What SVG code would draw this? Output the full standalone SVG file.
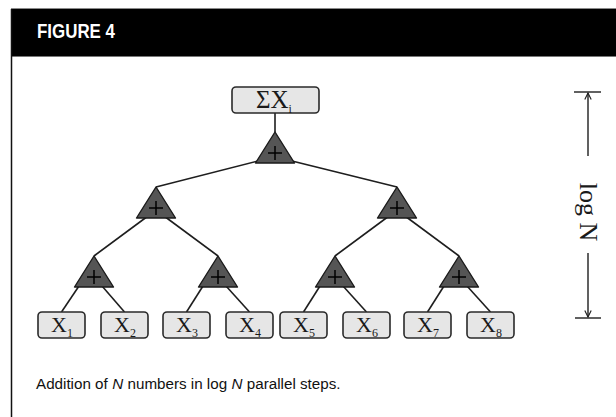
<svg xmlns="http://www.w3.org/2000/svg" width="616" height="417" viewBox="0 0 616 417">
  <style>
    .box { fill: #e6e6e6; stroke: #2a2a2a; stroke-width: 1.6; }
    .tri { fill: #555555; stroke: #1a1a1a; stroke-width: 1.4; stroke-linejoin: round; }
    .edge { stroke: #1e1e1e; stroke-width: 1.6; fill: none; }
    .dim { stroke: #1e1e1e; stroke-width: 1.4; fill: none; }
    .var { font-family: "Liberation Serif", "Times New Roman", serif; fill: #1a1a1a; }
    .sub { font-size: 12px; }
    .cap { font-family: "Liberation Sans", Arial, sans-serif; font-size: 15.2px; fill: #111; }
  </style>
  <defs>
    <marker id="openArrow" viewBox="0 0 10 10" refX="9" refY="5" markerWidth="8" markerHeight="8" markerUnits="userSpaceOnUse" orient="auto">
      <path d="M1,1 L9,5 L1,9" fill="none" stroke="#1e1e1e" stroke-width="1.4"/>
    </marker>
    <g id="opTri">
      <polygon class="tri" points="0,0 -19.5,31 19.5,31"/>
      <path d="M-7,21 H7 M0,14 V28" stroke="#000000" stroke-width="1.5" fill="none"/>
    </g>
  </defs>

  <!-- page frame and header bar -->
  <rect x="0" y="0" width="616" height="417" fill="#ffffff"/>
  <line x1="11" y1="8.5" x2="616" y2="8.5" stroke="#8a8a8a" stroke-width="1"/>
  <rect x="11" y="9" width="605" height="47" fill="#000000"/>
  <line x1="11" y1="56.5" x2="616" y2="56.5" stroke="#777" stroke-width="1"/>
  <line x1="11.5" y1="9" x2="11.5" y2="417" stroke="#111" stroke-width="1.5"/>
  <text x="37" y="38" font-family="Liberation Sans, Arial, sans-serif" font-weight="bold" font-size="20" fill="#ffffff" textLength="78" lengthAdjust="spacingAndGlyphs">FIGURE 4</text>

  <!-- connectors -->
  <g id="connectors">
    <line class="edge" x1="275" y1="113" x2="275" y2="132"/>
    <line class="edge" x1="258" y1="161" x2="156" y2="187"/>
    <line class="edge" x1="292" y1="161" x2="397" y2="187"/>
    <line class="edge" x1="148" y1="216" x2="94" y2="256"/>
    <line class="edge" x1="164" y1="216" x2="218" y2="256"/>
    <line class="edge" x1="389" y1="216" x2="335" y2="256"/>
    <line class="edge" x1="405" y1="216" x2="459" y2="256"/>
    <line class="edge" x1="79" y1="286" x2="61.5" y2="312"/>
    <line class="edge" x1="102" y1="286" x2="124.5" y2="312"/>
    <line class="edge" x1="203" y1="286" x2="186.5" y2="312"/>
    <line class="edge" x1="226" y1="286" x2="249.5" y2="312"/>
    <line class="edge" x1="320" y1="286" x2="303.5" y2="312"/>
    <line class="edge" x1="343" y1="286" x2="366.5" y2="312"/>
    <line class="edge" x1="444" y1="286" x2="427.5" y2="312"/>
    <line class="edge" x1="467" y1="286" x2="490.5" y2="312"/>
  </g>

  <!-- result -->
  <g id="sum">
    <rect class="box" x="232" y="87" width="87" height="26" rx="4"/>
    <text class="var" x="256" y="108" font-size="25">ΣX<tspan class="sub" dy="5" font-size="13">i</tspan></text>
  </g>

  <!-- adders -->
  <g id="add-root"><use href="#opTri" x="275" y="132"/></g>
  <g id="add-l1"><use href="#opTri" x="156" y="187"/></g>
  <g id="add-l2"><use href="#opTri" x="397" y="187"/></g>
  <g id="add-l3a"><use href="#opTri" x="94" y="256"/></g>
  <g id="add-l3b"><use href="#opTri" x="218" y="256"/></g>
  <g id="add-l3c"><use href="#opTri" x="335" y="256"/></g>
  <g id="add-l3d"><use href="#opTri" x="459" y="256"/></g>

  <!-- inputs -->
  <g id="x1"><rect class="box" x="38" y="312" width="47" height="26" rx="4"/><text class="var" x="51" y="332" font-size="22">X<tspan class="sub" dy="5">1</tspan></text></g>
  <g id="x2"><rect class="box" x="101" y="312" width="47" height="26" rx="4"/><text class="var" x="114" y="332" font-size="22">X<tspan class="sub" dy="5">2</tspan></text></g>
  <g id="x3"><rect class="box" x="163" y="312" width="47" height="26" rx="4"/><text class="var" x="176" y="332" font-size="22">X<tspan class="sub" dy="5">3</tspan></text></g>
  <g id="x4"><rect class="box" x="226" y="312" width="47" height="26" rx="4"/><text class="var" x="239" y="332" font-size="22">X<tspan class="sub" dy="5">4</tspan></text></g>
  <g id="x5"><rect class="box" x="280" y="312" width="47" height="26" rx="4"/><text class="var" x="293" y="332" font-size="22">X<tspan class="sub" dy="5">5</tspan></text></g>
  <g id="x6"><rect class="box" x="343" y="312" width="47" height="26" rx="4"/><text class="var" x="356" y="332" font-size="22">X<tspan class="sub" dy="5">6</tspan></text></g>
  <g id="x7"><rect class="box" x="404" y="312" width="47" height="26" rx="4"/><text class="var" x="417" y="332" font-size="22">X<tspan class="sub" dy="5">7</tspan></text></g>
  <g id="x8"><rect class="box" x="467" y="312" width="47" height="26" rx="4"/><text class="var" x="480" y="332" font-size="22">X<tspan class="sub" dy="5">8</tspan></text></g>

  <!-- depth dimension -->
  <g id="depth">
    <line class="dim" x1="574" y1="92" x2="601" y2="92"/>
    <line class="dim" x1="588" y1="156" x2="588" y2="93" marker-end="url(#openArrow)"/>
    <line class="dim" x1="588" y1="253" x2="588" y2="317" marker-end="url(#openArrow)"/>
    <line class="dim" x1="575" y1="318" x2="601" y2="318"/>
    <text class="var" transform="translate(580,212) rotate(90)" text-anchor="middle" font-size="26">log N</text>
  </g>

  <!-- caption -->
  <g id="caption">
    <text class="cap" x="36" y="389">Addition of</text>
    <text class="cap" x="112.2" y="389" font-style="italic">N</text>
    <text class="cap" x="127.5" y="389">numbers in log</text>
    <text class="cap" x="231.5" y="389" font-style="italic">N</text>
    <text class="cap" x="246.8" y="389">parallel steps.</text>
  </g>
</svg>
